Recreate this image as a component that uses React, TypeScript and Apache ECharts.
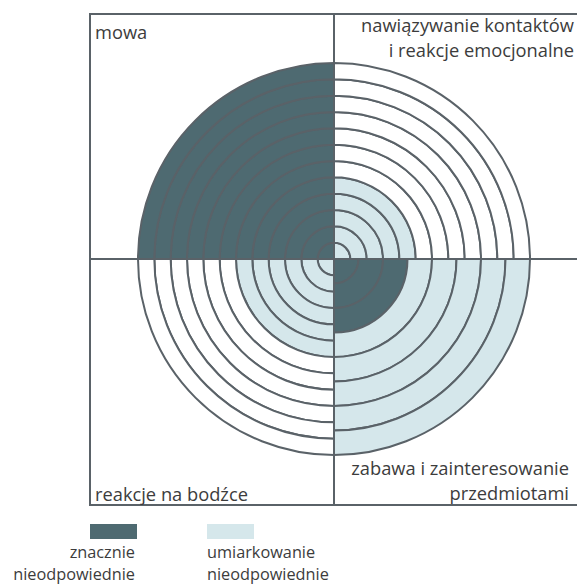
import React, { useEffect, useRef } from "react";
import * as echarts from "echarts";

// Quadrants in drawing order (clockwise from 12 o'clock)
const quadrants = ["top-right", "bottom-right", "bottom-left", "top-left"];
const quadrantLabels = [
  "nawiązywanie kontaktów\ni reakcje emocjonalne",
  "zabawa i zainteresowanie\nprzedmiotami",
  "reakcje na bodźce",
  "mowa",
];
// number of rings in each quadrant
const ringCounts = [12, 8, 12, 12];
// rings filled "znacznie nieodpowiednie" (dark), counted from the centre
const darkLevels = [0, 3, 0, 12];
// rings filled up to "umiarkowanie nieodpowiednie" (light), counted from the centre
const lightLevels = [5, 8, 6, 12];
const legendLabels = ["znacznie\nnieodpowiednie", "umiarkowanie\nnieodpowiednie"];

const DARK = "#4e6a71";
const LIGHT = "#d5e7eb";
const LINE = "#5a6268";
const TEXT = "#3c3c3c";
const FONT = "'Open Sans', 'Noto Sans', sans-serif";

export default function App() {
  const ref = useRef<HTMLDivElement>(null);
  useEffect(() => {
    if (!ref.current) return;
    const chart = echarts.init(ref.current, null, { renderer: "svg" });
    const maxRings = Math.max(...ringCounts);
    const series: any[] = [];
    for (let k = 0; k < maxRings; k++) {
      series.push({
        type: "bar",
        coordinateSystem: "polar",
        stack: "rings",
        barCategoryGap: "0%",
        barGap: "0%",
        silent: true,
        z: 2,
        data: quadrants.map((_, qi) => {
          const n = ringCounts[qi];
          if (k >= n) return "-";
          const color = k < darkLevels[qi] ? DARK : k < lightLevels[qi] ? LIGHT : "#ffffff";
          return {
            value: 1 / n,
            itemStyle: { color, borderColor: LINE, borderWidth: 2 },
          };
        }),
      });
    }
    const cx = 334, cy = 259, R = 196;
    const boxL = 90, boxT = 14, boxB = 505, boxR = 590;
    const labelStyle = { fill: TEXT, font: `18.3px ${FONT}` };
    const legendStyle = { fill: TEXT, font: `16.3px ${FONT}` };
    chart.setOption({
      animation: false,
      backgroundColor: "#ffffff",
      polar: { center: [cx, cy], radius: R },
      angleAxis: {
        type: "category",
        data: quadrants,
        startAngle: 90,
        clockwise: true,
        axisLine: { show: false },
        axisTick: { show: false },
        axisLabel: { show: false },
        splitLine: { show: false },
      },
      radiusAxis: {
        type: "value",
        min: 0,
        max: 1,
        axisLine: { show: false },
        axisTick: { show: false },
        axisLabel: { show: false },
        splitLine: { show: false },
      },
      series,
      graphic: [
        {
          type: "rect",
          z: 100,
          shape: { x: boxL, y: boxT, width: boxR - boxL, height: boxB - boxT },
          style: { fill: "none", stroke: LINE, lineWidth: 2 },
        },
        {
          type: "line",
          z: 100,
          shape: { x1: cx, y1: boxT, x2: cx, y2: boxB },
          style: { stroke: LINE, lineWidth: 2 },
        },
        {
          type: "line",
          z: 100,
          shape: { x1: boxL, y1: cy, x2: boxR, y2: cy },
          style: { stroke: LINE, lineWidth: 2 },
        },
        {
          type: "text",
          z: 100,
          x: 95,
          y: 31,
          style: { ...labelStyle, text: quadrantLabels[3], textAlign: "left", textVerticalAlign: "middle" },
        },
        {
          type: "text",
          z: 100,
          x: 574,
          y: 37,
          style: { ...labelStyle, text: quadrantLabels[0], textAlign: "right", textVerticalAlign: "middle", lineHeight: 25 },
        },
        {
          type: "text",
          z: 100,
          x: 569,
          y: 480,
          style: { ...labelStyle, text: quadrantLabels[1], textAlign: "right", textVerticalAlign: "middle", lineHeight: 25 },
        },
        {
          type: "text",
          z: 100,
          x: 95,
          y: 493,
          style: { ...labelStyle, text: quadrantLabels[2], textAlign: "left", textVerticalAlign: "middle" },
        },
        {
          type: "rect",
          z: 100,
          shape: { x: 90, y: 524, width: 47, height: 15 },
          style: { fill: DARK },
        },
        {
          type: "rect",
          z: 100,
          shape: { x: 207, y: 524, width: 47, height: 15 },
          style: { fill: LIGHT },
        },
        {
          type: "text",
          z: 100,
          x: 135,
          y: 563,
          style: { ...legendStyle, text: legendLabels[0], textAlign: "right", textVerticalAlign: "middle", lineHeight: 22 },
        },
        {
          type: "text",
          z: 100,
          x: 207,
          y: 563,
          style: { ...legendStyle, text: legendLabels[1], textAlign: "left", textVerticalAlign: "middle", lineHeight: 22 },
        },
      ],
    });
    return () => chart.dispose();
  }, []);
  return (
    <div
      ref={ref}
      style={{ position: "fixed", left: 0, top: 0, width: 577, height: 584 }}
    />
  );
}
